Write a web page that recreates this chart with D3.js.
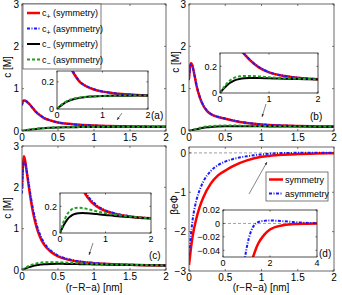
<!DOCTYPE html>
<html>
<head>
<meta charset="utf-8">
<script src="https://cdn.jsdelivr.net/npm/d3@7"></script>
<style>
  body { margin: 0; background: #fff; }
  svg { display: block; }
  text { font-family: "Liberation Sans", Arial, sans-serif; fill: #000; }
</style>
</head>
<body>
<svg width="342" height="295"></svg>
<script>
// x grid shared by the concentration panels (a)-(c)
const xc = [0, 0.01, 0.025, 0.04, 0.06, 0.08, 0.1, 0.15, 0.2, 0.25, 0.3, 0.4, 0.5, 0.6, 0.8, 1.0, 1.2, 1.5, 1.75, 2.0];

// panel (a)
const cPlusSymA   = [0.65, 0.69, 0.72, 0.72, 0.70, 0.67, 0.64, 0.54, 0.44, 0.37, 0.31, 0.245, 0.2, 0.175, 0.145, 0.128, 0.118, 0.108, 0.103, 0.1];
const cPlusAsymA  = [0.60, 0.67, 0.71, 0.715, 0.70, 0.67, 0.64, 0.545, 0.445, 0.375, 0.315, 0.25, 0.203, 0.177, 0.147, 0.129, 0.119, 0.108, 0.103, 0.1];
const cMinusSymA  = [0, 0.003, 0.008, 0.012, 0.018, 0.023, 0.028, 0.04, 0.05, 0.058, 0.065, 0.075, 0.082, 0.087, 0.092, 0.095, 0.097, 0.098, 0.099, 0.1];
const cMinusAsymA = [0, 0.004, 0.01, 0.015, 0.022, 0.028, 0.033, 0.045, 0.055, 0.063, 0.07, 0.079, 0.085, 0.089, 0.094, 0.096, 0.098, 0.099, 0.1, 0.1];

// panel (b)
const cPlusSymB   = [1.25, 1.45, 1.6, 1.58, 1.45, 1.28, 1.1, 0.79, 0.59, 0.47, 0.4, 0.33, 0.29, 0.25, 0.19, 0.155, 0.135, 0.118, 0.109, 0.104];
const cPlusAsymB  = [1.2, 1.42, 1.58, 1.57, 1.45, 1.29, 1.12, 0.8, 0.6, 0.48, 0.405, 0.335, 0.293, 0.253, 0.193, 0.157, 0.136, 0.119, 0.11, 0.104];
const cMinusSymB  = [0, 0.005, 0.012, 0.018, 0.027, 0.035, 0.042, 0.06, 0.075, 0.086, 0.095, 0.105, 0.11, 0.112, 0.112, 0.11, 0.108, 0.105, 0.103, 0.102];
const cMinusAsymB = [0, 0.006, 0.015, 0.023, 0.034, 0.044, 0.053, 0.075, 0.093, 0.106, 0.115, 0.125, 0.128, 0.128, 0.124, 0.118, 0.113, 0.108, 0.105, 0.103];

// panel (c)
const cPlusSymC   = [2.0, 2.45, 2.75, 2.68, 2.45, 2.2, 1.95, 1.42, 1.05, 0.8, 0.63, 0.44, 0.33, 0.27, 0.2, 0.165, 0.145, 0.125, 0.115, 0.11];
const cPlusAsymC  = [1.85, 2.3, 2.62, 2.62, 2.45, 2.25, 2.02, 1.5, 1.12, 0.86, 0.68, 0.47, 0.35, 0.285, 0.21, 0.17, 0.148, 0.127, 0.117, 0.11];
const cMinusSymC  = [0, 0.008, 0.02, 0.03, 0.045, 0.058, 0.07, 0.097, 0.117, 0.13, 0.14, 0.148, 0.15, 0.148, 0.142, 0.135, 0.128, 0.12, 0.115, 0.11];
const cMinusAsymC = [0, 0.012, 0.03, 0.045, 0.065, 0.085, 0.1, 0.135, 0.16, 0.175, 0.185, 0.19, 0.188, 0.18, 0.163, 0.148, 0.137, 0.125, 0.117, 0.11];

// panel (d): potential, grid runs to 4 for the inset
const xd = [0, 0.01, 0.025, 0.05, 0.1, 0.15, 0.2, 0.3, 0.4, 0.5, 0.6, 0.8, 1.0, 1.1, 1.2, 1.3, 1.4, 1.5, 1.75, 2.0, 2.5, 3.0, 3.5, 4.0];
const phiSym  = [-2.85, -2.7, -2.45, -2.12, -1.68, -1.36, -1.12, -0.78, -0.57, -0.45, -0.34, -0.19, -0.1, -0.077, -0.06, -0.048, -0.038, -0.03, -0.017, -0.009, -0.003, -0.001, -0.0003, 0];
const phiAsym = [-2.6, -2.4, -2.1, -1.7, -1.22, -0.93, -0.72, -0.46, -0.31, -0.22, -0.16, -0.085, -0.038, -0.022, -0.011, -0.004, 0, 0.002, 0.0038, 0.0044, 0.0035, 0.002, 0.001, 0.0003];

// tick values
const mainXTicks = [0, 0.5, 1, 1.5, 2];
const cYTicks = [0, 1, 2, 3];
const phiYTicks = [-3, -2, -1, 0];
const insetCXTicks = [0, 1, 2];
const insetCYTicks = [0, 0.2];
const insetDXTicks = [0, 2, 4];
const insetDYTicks = [-0.04, -0.02, 0, 0.02];

const legendC = [["+", " (symmetry)"], ["+", " (asymmetry)"], ["\u2212", " (symmetry)"], ["\u2212", " (asymmetry)"]];
const legendD = ["symmetry", "asymmetry"];

const styles = [
  {stroke: "#ff0000", width: 2.5, dash: null},
  {stroke: "#1a1aff", width: 2, dash: "3,1.5,1,1.5"},
  {stroke: "#000000", width: 2, dash: null},
  {stroke: "#1f9f1f", width: 2, dash: "3,2"}
];

const svg = d3.select("svg");
const defs = svg.append("defs");
defs.append("marker")
    .attr("id", "head")
    .attr("viewBox", "0 0 10 10")
    .attr("refX", 10).attr("refY", 5)
    .attr("markerWidth", 5).attr("markerHeight", 5)
    .attr("orient", "auto")
    .append("path")
    .attr("d", "M0,1 L10,5 L0,9 z")
    .attr("fill", "#333");

const fmt = v => (v < 0 ? "\u2212" : "") + String(Math.abs(+v.toFixed(3)));
let clipId = 0;

// draws one set of axes with its curves
function axes(o) {
  const x = d3.scaleLinear().domain(o.xDomain).range([o.left, o.right]);
  const y = d3.scaleLinear().domain(o.yDomain).range([o.bottom, o.top]);
  const g = svg.append("g");

  g.append("rect")
   .attr("x", o.left).attr("y", o.top)
   .attr("width", o.right - o.left).attr("height", o.bottom - o.top)
   .attr("fill", "#fff");

  const id = "clip" + (clipId++);
  defs.append("clipPath").attr("id", id)
      .append("rect")
      .attr("x", o.left).attr("y", o.top)
      .attr("width", o.right - o.left).attr("height", o.bottom - o.top);

  const plot = g.append("g").attr("clip-path", "url(#" + id + ")");

  if (o.zeroLine) {
    plot.append("line")
        .attr("x1", o.left).attr("x2", o.right)
        .attr("y1", y(0)).attr("y2", y(0))
        .attr("stroke", "#777").attr("stroke-width", 0.7)
        .attr("stroke-dasharray", "3,2");
  }

  const line = d3.line()
                 .x(d => x(d[0]))
                 .y(d => y(d[1]))
                 .curve(d3.curveMonotoneX);

  o.series.forEach((s, i) => {
    const st = styles[s.style];
    plot.append("path")
        .datum(s.xs.map((v, j) => [v, s.ys[j]]))
        .attr("d", line)
        .attr("fill", "none")
        .attr("stroke", st.stroke)
        .attr("stroke-width", st.width)
        .attr("stroke-dasharray", st.dash);
  });

  // ticks inside, on all four sides
  const tl = o.tickLen;
  o.xTicks.forEach(t => {
    g.append("line").attr("x1", x(t)).attr("x2", x(t)).attr("y1", o.bottom).attr("y2", o.bottom - tl)
     .attr("stroke", o.color).attr("stroke-width", 0.7);
    g.append("line").attr("x1", x(t)).attr("x2", x(t)).attr("y1", o.top).attr("y2", o.top + tl)
     .attr("stroke", o.color).attr("stroke-width", 0.7);
    g.append("text").attr("x", x(t)).attr("y", o.bottom + o.xLabelGap)
     .attr("text-anchor", "middle").attr("font-size", o.fontSize).text(fmt(t));
  });
  o.yTicks.forEach(t => {
    g.append("line").attr("x1", o.left).attr("x2", o.left + tl).attr("y1", y(t)).attr("y2", y(t))
     .attr("stroke", o.color).attr("stroke-width", 0.7);
    g.append("line").attr("x1", o.right).attr("x2", o.right - tl).attr("y1", y(t)).attr("y2", y(t))
     .attr("stroke", o.color).attr("stroke-width", 0.7);
    g.append("text").attr("x", o.left - 3).attr("y", y(t)).attr("dy", "0.36em")
     .attr("text-anchor", "end").attr("font-size", o.fontSize).text(fmt(t));
  });

  g.append("rect")
   .attr("x", o.left).attr("y", o.top)
   .attr("width", o.right - o.left).attr("height", o.bottom - o.top)
   .attr("fill", "none").attr("stroke", o.color).attr("stroke-width", 0.8);

  return {x: x, y: y, g: g};
}

function cSeries(a, b, c, d) {
  return [{xs: xc, ys: a, style: 0}, {xs: xc, ys: b, style: 1}, {xs: xc, ys: c, style: 2}, {xs: xc, ys: d, style: 3}];
}

function mainPanel(box, data, yDomain, yTicks, extra) {
  return axes(Object.assign({
    left: box[0], right: box[1], top: box[2], bottom: box[3],
    xDomain: [0, 2], yDomain: yDomain, xTicks: mainXTicks, yTicks: yTicks,
    series: data, color: "#444", tickLen: 2, fontSize: 10, xLabelGap: 10
  }, extra || {}));
}

function insetPanel(box, data, xDomain, yDomain, xTicks, yTicks, extra) {
  return axes(Object.assign({
    left: box[0], right: box[1], top: box[2], bottom: box[3],
    xDomain: xDomain, yDomain: yDomain, xTicks: xTicks, yTicks: yTicks,
    series: data, color: "#222", tickLen: 1.5, fontSize: 9, xLabelGap: 9
  }, extra || {}));
}

function arrow(x1, y1, x2, y2) {
  svg.append("line")
     .attr("x1", x1).attr("y1", y1).attr("x2", x2).attr("y2", y2)
     .attr("stroke", "#333").attr("stroke-width", 0.6)
     .attr("marker-end", "url(#head)");
}

function label(txt, x, y) {
  svg.append("text").attr("x", x).attr("y", y).attr("font-size", 10).text(txt);
}

function yTitle(txt, x, y) {
  svg.append("text")
     .attr("transform", "translate(" + x + "," + y + ") rotate(-90)")
     .attr("text-anchor", "middle").attr("font-size", 10).text(txt);
}

// (a)
mainPanel([22, 166, 4, 131], cSeries(cPlusSymA, cPlusAsymA, cMinusSymA, cMinusAsymA), [0, 3], cYTicks);
insetPanel([57, 148, 71, 109], cSeries(cPlusSymA, cPlusAsymA, cMinusSymA, cMinusAsymA), [0, 2], [0, 0.28], insetCXTicks, insetCYTicks);
arrow(122, 113, 117, 120);
label("(a)", 151, 119);
yTitle("c [M]", 11, 67);

// (b)
mainPanel([189, 334, 4, 131], cSeries(cPlusSymB, cPlusAsymB, cMinusSymB, cMinusAsymB), [0, 3], cYTicks);
insetPanel([220, 318, 53, 93], cSeries(cPlusSymB, cPlusAsymB, cMinusSymB, cMinusAsymB), [0, 2], [0, 0.3], insetCXTicks, insetCYTicks);
arrow(266, 104, 262, 117);
label("(b)", 310, 120);
yTitle("c [M]", 179, 62);

// (c)
mainPanel([22, 166, 146, 270], cSeries(cPlusSymC, cPlusAsymC, cMinusSymC, cMinusAsymC), [0, 3], cYTicks);
insetPanel([60, 151, 193, 233], cSeries(cPlusSymC, cPlusAsymC, cMinusSymC, cMinusAsymC), [0, 2], [0, 0.3], insetCXTicks, insetCYTicks);
arrow(93, 243, 89, 255);
label("(c)", 149, 259);
yTitle("c [M]", 11, 208);

// (d)
const dSeries = [{xs: xd, ys: phiSym, style: 0}, {xs: xd, ys: phiAsym, style: 1}];
mainPanel([189, 334, 147, 271], dSeries, [-3, 0.15], phiYTicks, {zeroLine: true});
insetPanel([223, 317, 210, 257], dSeries, [0, 4], [-0.05, 0.02], insetDXTicks, insetDYTicks, {zeroLine: true});
arrow(249, 194, 267, 162);
label("(d)", 319, 257);
yTitle("\u03b2e\u03a6", 178, 205);

// x titles
svg.append("text").attr("x", 94).attr("y", 291).attr("text-anchor", "middle").attr("font-size", 10).text("(r\u2212R\u2212a) [nm]");
svg.append("text").attr("x", 261).attr("y", 291).attr("text-anchor", "middle").attr("font-size", 10).text("(r\u2212R\u2212a) [nm]");

// legend (a)
const legA = svg.append("g");
legA.append("rect").attr("x", 23).attr("y", 4).attr("width", 78).attr("height", 65)
    .attr("fill", "#fff").attr("stroke", "#444").attr("stroke-width", 0.7);
legendC.forEach((l, i) => {
  const yy = 13 + i * 15.5;
  const st = styles[i];
  legA.append("line").attr("x1", 27).attr("x2", 40).attr("y1", yy).attr("y2", yy)
      .attr("stroke", st.stroke).attr("stroke-width", st.width).attr("stroke-dasharray", st.dash);
  const t = legA.append("text").attr("x", 42).attr("y", yy + 3).attr("font-size", 9);
  t.append("tspan").text("c");
  t.append("tspan").attr("dy", 3).attr("font-size", 7).text(l[0]);
  t.append("tspan").attr("dy", -3).text(l[1]);
});

// legend (d)
const legD = svg.append("g");
legD.append("rect").attr("x", 266).attr("y", 172).attr("width", 62).attr("height", 29)
    .attr("fill", "#fff").attr("stroke", "#444").attr("stroke-width", 0.7);
legendD.forEach((l, i) => {
  const yy = 179.5 + i * 14;
  const st = styles[i];
  legD.append("line").attr("x1", 269).attr("x2", 283).attr("y1", yy).attr("y2", yy)
      .attr("stroke", st.stroke).attr("stroke-width", st.width).attr("stroke-dasharray", st.dash);
  legD.append("text").attr("x", 285).attr("y", yy + 3).attr("font-size", 9).text(l);
});
</script>
</body>
</html>
